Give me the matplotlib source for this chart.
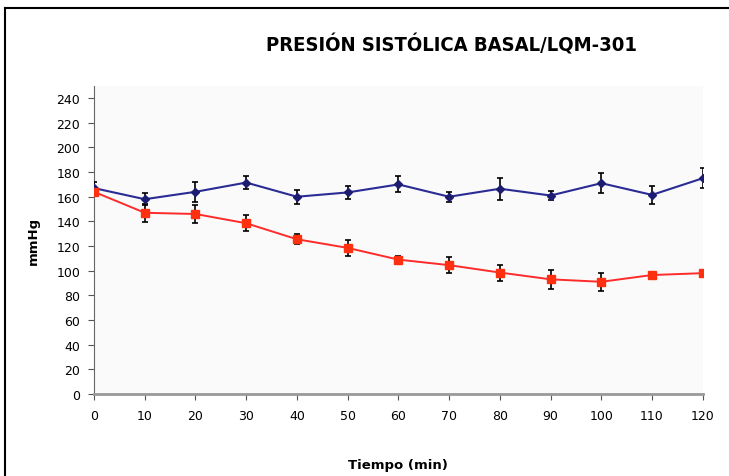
import matplotlib

matplotlib.use("Agg")
import matplotlib.pyplot as plt
from matplotlib.lines import Line2D

# tiempo (min)
tiempo = [0, 10, 20, 30, 40, 50, 60, 70, 80, 90, 100, 110, 120]

# serie azul (control)
basal_azul = [167, 158, 164, 171.5, 160, 163.5, 170, 160, 166.5, 161, 171, 161.5, 175]
err_azul = [5, 5, 8, 5.5, 5.5, 5.5, 6.5, 4, 9, 3.5, 8, 7, 8]

# serie roja (LQM-301)
basal_rojo = [164, 147, 146, 138.5, 125.5, 118.5, 109, 104.5, 98.5, 93, 91, 96.5, 98]
err_rojo = [3, 7.5, 7, 6.5, 4, 6.5, 3, 6.5, 6.5, 7.5, 7.5, 2, 2]

y_ticks = list(range(0, 241, 20))

fig = plt.figure(figsize=(7.29, 4.77), dpi=100)
ax = fig.add_axes([0.129, 0.172, 0.835, 0.646])
ax.set_facecolor("#fafafa")

# marco exterior (izquierda y arriba)
fig.add_artist(Line2D([5 / 729, 5 / 729], [0, 1 - 9 / 477], transform=fig.transFigure,
                      color="black", linewidth=1.5))
fig.add_artist(Line2D([5 / 729, 1], [1 - 9 / 477, 1 - 9 / 477], transform=fig.transFigure,
                      color="black", linewidth=1.5))

ax.errorbar(tiempo, basal_azul, yerr=err_azul, color="#2b2b95", ecolor="black",
            elinewidth=1.2, capsize=2.5, capthick=1.2, linewidth=1.5,
            marker="D", markersize=4, markerfacecolor="#1c1c70", markeredgecolor="#1c1c70",
            zorder=3)
ax.errorbar(tiempo, basal_rojo, yerr=err_rojo, color="#ff2a2a", ecolor="black",
            elinewidth=1.2, capsize=2.5, capthick=1.2, linewidth=1.4,
            marker="s", markersize=6, markerfacecolor="#ff3010", markeredgecolor="#ff3010",
            zorder=3)

ax.set_xlim(0, 120)
ax.set_ylim(0, 250)
ax.set_xticks(tiempo)
ax.set_yticks(y_ticks)
ax.tick_params(axis="both", labelsize=9, color="#555555", length=4, width=0.8, direction="out")
ax.tick_params(axis="x", pad=7)
ax.tick_params(axis="y", pad=6)
for side in ("top", "right"):
    ax.spines[side].set_visible(False)
ax.spines["left"].set_color("#666666")
ax.spines["bottom"].set_color("#999999")
ax.spines["bottom"].set_linewidth(2)
ax.spines["left"].set_linewidth(0.8)

ax.set_xlabel("Tiempo (min)", fontsize=9.5, fontweight="bold", labelpad=26)
ax.set_ylabel("mmHg", fontsize=9.5, fontweight="bold", labelpad=12)
fig.text(0.62, 0.906, "PRESIÓN SISTÓLICA BASAL/LQM-301", ha="center", va="center",
         fontsize=14.5, fontweight="bold", fontstretch="condensed")

fig.savefig("out.png", dpi=100)
